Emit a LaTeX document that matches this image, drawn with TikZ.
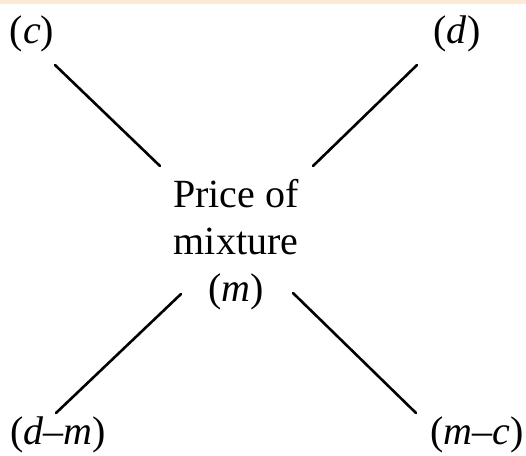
\documentclass[tikz,border=0pt]{standalone}
\usepackage{fontspec}
\setmainfont{Liberation Serif}
\usepackage{xcolor}
\usepackage{tikz}
\usetikzlibrary{positioning}
\definecolor{peachband}{RGB}{252,233,214}
\tikzset{
  pricelabel/.style={inner sep=0pt, anchor=base, font=\fontsize{40}{47}\selectfont},
  mixbox/.style={inner sep=0pt, align=center, anchor=base, font=\fontsize{40}{47}\selectfont},
  crossline/.style={line width=2.6pt, line cap=round}
}
\begin{document}
\begin{tikzpicture}[x=1pt,y=-1pt]
\useasboundingbox (0,0) rectangle (526,455);
\fill[peachband] (0,0) rectangle (526,4);
\node[pricelabel] (cost) at (32,43) {(\textit{c})};
\node[pricelabel] (dear) at (457,43) {(\textit{d})};
% base anchor sits on the last line
\node[mixbox] (mix) at (236,301) {Price of\\mixture\\(\textit{m})};
\node[pricelabel] (dm) at (58,444) {(\textit{d}--\textit{m})};
\node[pricelabel] (mc) at (477,444) {(\textit{m}--\textit{c})};
\coordinate (tlA) at (55,65);
\coordinate (tlB) at (160,166);
\coordinate (trA) at (417,65);
\coordinate (trB) at (313,166);
\coordinate (blA) at (181,294);
\coordinate (blB) at (56,413);
\coordinate (brA) at (293,293);
\coordinate (brB) at (416,413);
\foreach \p/\q in {tlA/tlB,trA/trB,blA/blB,brA/brB} {
  \draw[crossline] (\p) -- (\q);
}
\end{tikzpicture}
\end{document}
